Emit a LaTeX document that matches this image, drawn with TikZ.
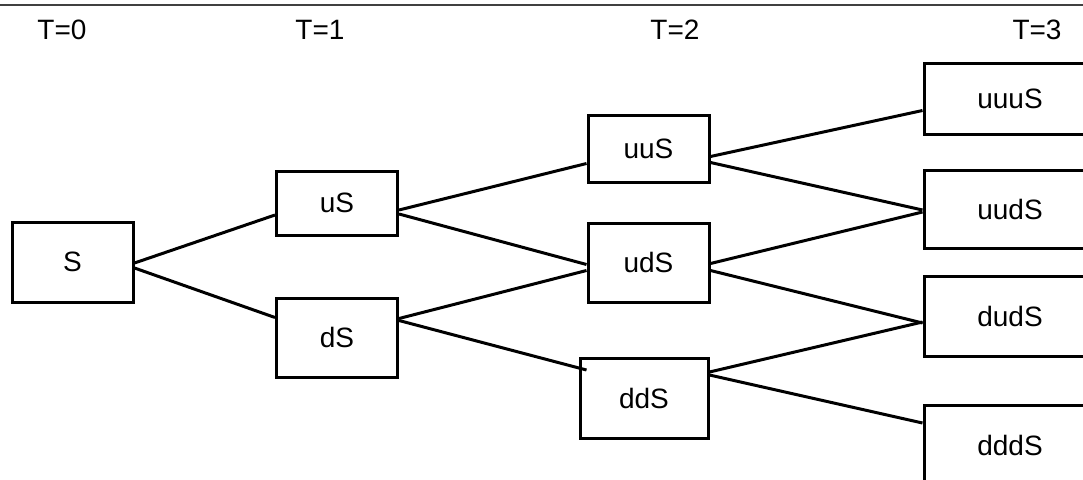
\documentclass[tikz,border=0pt]{standalone}
\usepackage{fontspec}
\setmainfont{Liberation Sans}
\usetikzlibrary{calc}
\begin{document}
\begin{tikzpicture}[x=1pt,y=-1pt,
  every node/.style={font=\fontsize{28}{30}\selectfont},
  state/.style={draw=black,line width=3pt,fill=white,inner sep=0pt,
    minimum width=#1,minimum height=76pt},
  state/.default=121pt,
  link/.style={line width=3pt,draw=black},
  stage/.style={anchor=center}]
\clip (0,0) rectangle (1083,479);
\fill[white] (0,0) rectangle (1083,479);
% rule across the top
\draw[line width=1.8pt,black!75] (0,5) -- (1083,5);
% time labels
\node[stage] (t0) at (62,30) {T=0};
\node[stage] (t1) at (320,30) {T=1};
\node[stage] (t2) at (675,30) {T=2};
\node[stage] (t3) at (1037,30) {T=3};
% the lattice of prices
\node[state,minimum height=80pt] (S) at (72.5,262) {S};
\node[state,minimum height=64pt] (uS) at (337,203) {uS};
\node[state,minimum height=79pt] (dS) at (337,337.5) {dS};
\node[state,minimum height=67pt] (uuS) at (648.5,148.5) {uuS};
\node[state,minimum height=79pt] (udS) at (648.5,262.5) {udS};
\node[state=128pt,minimum height=80pt] (ddS) at (644,398) {ddS};
\node[state=172pt,minimum height=71pt] (uuuS) at (1010,98.5) {uuuS};
\node[state=172pt,minimum height=78pt] (uudS) at (1010,209) {uudS};
\node[state=172pt,minimum height=80pt] (dudS) at (1010,316) {dudS};
\node[state=172pt,minimum height=80pt] (dddS) at (1010,445) {dddS};
% branches
\draw[link] ($(S.east)+(0,1)$) -- ($(uS.west)+(0,12)$);
\draw[link] ($(S.east)+(0,6)$) -- ($(dS.west)+(0,-20)$);
\draw[link] ($(uS.east)+(0,7)$) -- ($(uuS.west)+(0,15)$);
\draw[link] ($(uS.east)+(0,11)$) -- ($(udS.west)+(0,2)$);
\draw[link] ($(dS.east)+(0,-19)$) -- ($(udS.west)+(0,8)$);
\draw[link] ($(dS.east)+(0,-17)$) -- ($(ddS.west)+(8,-28)$);
\draw[link] ($(uuS.east)+(0,8)$) -- ($(uuuS.west)+(0,12)$);
\draw[link] ($(uuS.east)+(0,14)$) -- ($(uudS.west)+(0,1)$);
\draw[link] ($(udS.east)+(0,1)$) -- ($(uudS.west)+(0,3)$);
\draw[link] ($(udS.east)+(0,8)$) -- ($(dudS.west)+(0,7)$);
\draw[link] ($(ddS.east)+(0,-26)$) -- ($(dudS.west)+(0,6)$);
\draw[link] ($(ddS.east)+(0,-23)$) -- ($(dddS.west)+(0,-22)$);
\end{tikzpicture}
\end{document}
